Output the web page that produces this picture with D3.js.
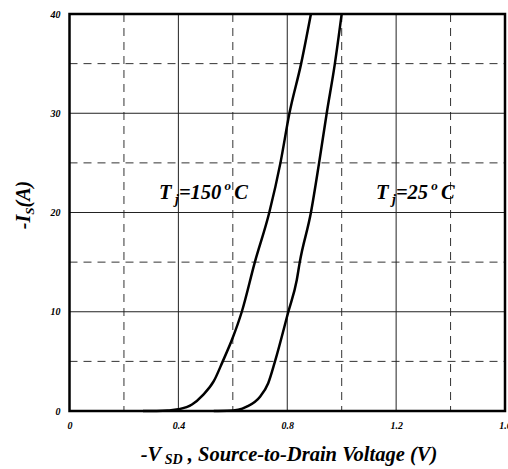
<!DOCTYPE html>
<html><head><meta charset="utf-8">
<script src="https://cdn.jsdelivr.net/npm/d3@7"></script>
<style>
html,body{margin:0;padding:0;background:#fff;overflow:hidden}
text{font-family:"Liberation Serif","Times New Roman",serif;font-weight:bold;font-style:italic;fill:#000}
</style></head>
<body><svg id="c" width="508" height="469"></svg>
<script>
// Data
const xTicks = [0, 0.4, 0.8, 1.2, 1.6];
const xDashed = [0.2, 0.6, 1.0, 1.4];
const yTicks = [0, 10, 20, 30, 40];
const yDashed = [5, 15, 25, 35];
const xTickLabels = ["0", "0.4", "0.8", "1.2", "1.6"];
const yTickLabels = ["0", "10", "20", "30", "40"];

// Tj = 150 C curve (V, I)
const v150 = [0.27, 0.32, 0.36, 0.40, 0.45, 0.49, 0.53, 0.563, 0.60, 0.633, 0.681, 0.734, 0.775, 0.808, 0.851, 0.887];
const i150 = [0, 0.01, 0.05, 0.17, 0.65, 1.6, 3.0, 5, 7.4, 10, 15, 20, 25, 30, 35, 40];
// Tj = 25 C curve (V, I)
const v25 = [0.53, 0.58, 0.62, 0.651, 0.70, 0.73, 0.755, 0.804, 0.835, 0.846, 0.887, 0.917, 0.945, 0.975, 1.0];
const i25 = [0, 0.02, 0.12, 0.43, 1.44, 2.8, 5, 10, 13.2, 15, 20, 25, 30, 35, 40];

const svg = d3.select("#c");
const L = 69.5, R = 505, T = 14, B = 411;
const x = d3.scaleLinear().domain([0, 1.6]).range([L, R]);
const y = d3.scaleLinear().domain([0, 40]).range([B, T]);

const g = svg.append("g");
// dashed grid
g.selectAll(".vd").data(xDashed).enter().append("line")
  .attr("x1", d => x(d)).attr("x2", d => x(d)).attr("y1", T).attr("y2", B)
  .attr("stroke", "#333").attr("stroke-width", 1).attr("stroke-dasharray", "8,6");
g.selectAll(".hd").data(yDashed).enter().append("line")
  .attr("x1", L).attr("x2", R).attr("y1", d => y(d)).attr("y2", d => y(d))
  .attr("stroke", "#333").attr("stroke-width", 1).attr("stroke-dasharray", "8,6");
// solid grid
g.selectAll(".vs").data(xTicks.slice(1, -1)).enter().append("line")
  .attr("x1", d => x(d)).attr("x2", d => x(d)).attr("y1", T).attr("y2", B)
  .attr("stroke", "#222").attr("stroke-width", 1);
g.selectAll(".hs").data(yTicks.slice(1, -1)).enter().append("line")
  .attr("x1", L).attr("x2", R).attr("y1", d => y(d)).attr("y2", d => y(d))
  .attr("stroke", "#222").attr("stroke-width", 1);

// curves
const line = d3.line().x(d => x(d[0])).y(d => y(d[1])).curve(d3.curveMonotoneX);
[[v150, i150], [v25, i25]].forEach(([vs, is]) => {
  svg.append("path").datum(vs.map((v, k) => [v, is[k]]))
    .attr("d", line).attr("fill", "none").attr("stroke", "#000").attr("stroke-width", 2.5);
});

// frame
svg.append("rect").attr("x", L).attr("y", T).attr("width", R - L).attr("height", B - T)
  .attr("fill", "none").attr("stroke", "#000").attr("stroke-width", 2.5);

// axes labels via d3 axes
const xAxis = d3.axisBottom(x).tickValues(xTicks).tickSize(0).tickPadding(0)
  .tickFormat((d, k) => xTickLabels[k]);
const xa = svg.append("g").attr("transform", `translate(0,${B + 11})`).call(xAxis);
xa.select(".domain").remove();
xa.selectAll("text").attr("font-size", 10).attr("dy", "0.7em")
  .style("font-family", '"Liberation Serif",serif').style("font-weight", "bold").style("font-style", "italic");

const yAxis = d3.axisLeft(y).tickValues(yTicks).tickSize(0).tickPadding(0)
  .tickFormat((d, k) => yTickLabels[k]);
const ya = svg.append("g").attr("transform", `translate(${L - 9},0)`).call(yAxis);
ya.select(".domain").remove();
ya.selectAll("text").attr("font-size", 10)
  .style("font-family", '"Liberation Serif",serif').style("font-weight", "bold").style("font-style", "italic");

// x title
const xt = svg.append("text").attr("x", 289).attr("y", 461).attr("text-anchor", "middle").attr("font-size", 20.5);
xt.append("tspan").text("-V");
xt.append("tspan").attr("font-size", 14).attr("dy", 3).text(" SD");
xt.append("tspan").attr("dy", -3).text(" , Source-to-Drain Voltage (V)");

// y title
const yt = svg.append("text").attr("transform", "translate(30,205) rotate(-90)")
  .attr("text-anchor", "middle").attr("font-size", 20);
yt.append("tspan").text("-I");
yt.append("tspan").attr("font-size", 13).attr("dy", 4).text("S");
yt.append("tspan").attr("dy", -4).text("(A)");

// annotations
function label(x0, num) {
  const t = svg.append("text").attr("x", x0).attr("y", 199).attr("font-size", 20.5);
  t.append("tspan").text("T");
  t.append("tspan").attr("font-size", 14).attr("dy", 5).text(" j");
  t.append("tspan").attr("dy", -5).text(num);
  t.append("tspan").attr("font-size", 13).attr("dy", -9).text(" o ");
  t.append("tspan").attr("dy", 9).text("C");
}
label(159, "=150");
label(376, "=25");
</script></body></html>
